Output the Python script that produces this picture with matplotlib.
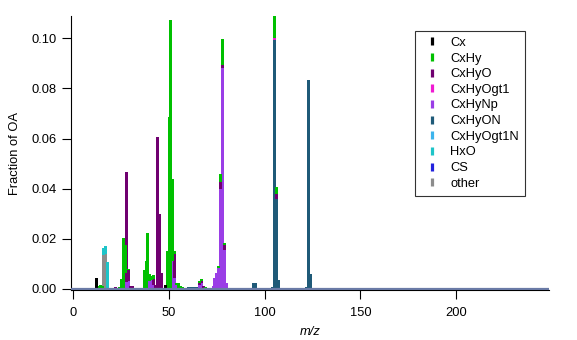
import matplotlib
matplotlib.use("Agg")
import matplotlib.pyplot as plt
from matplotlib.lines import Line2D
import pandas as pd

# stick spectrum of OA, fraction per ion family at each unit m/z
cx = {12: 0.0042, 48: 0.0014}
cxhy = {13: 0.0010, 14: 0.0014, 15: 0.0012, 24: 0.0008, 25: 0.0040, 26: 0.0205,
        27: 0.0110, 29: 0.0005, 37: 0.0075, 38: 0.0112, 39: 0.0190, 40: 0.0025,
        41: 0.0015, 42: 0.0015, 49: 0.0150, 50: 0.0687, 51: 0.1075, 52: 0.0330,
        53: 0.0012, 54: 0.0008, 55: 0.0022, 56: 0.0012, 57: 0.0006, 66: 0.0005,
        67: 0.0006, 69: 0.0008, 76: 0.0005, 77: 0.0035, 78: 0.0102, 79: 0.0008,
        105: 0.0092, 106: 0.0025}
cxhyo = {22: 0.0006, 28: 0.0440, 29: 0.0045, 30: 0.0010, 31: 0.0012, 42: 0.0025,
         43: 0.0015, 44: 0.0605, 45: 0.0300, 46: 0.0065, 53: 0.0095, 66: 0.0010,
         67: 0.0008, 68: 0.0012, 77: 0.0025, 78: 0.0015, 79: 0.0020, 85: 0.0005,
         106: 0.0022}
cxhyogt1 = {105: 0.0006}
cxhynp = {27: 0.0065, 28: 0.0027, 29: 0.0030, 39: 0.0035, 40: 0.0033, 41: 0.0035,
          42: 0.0015, 52: 0.0110, 53: 0.0045, 54: 0.0015, 66: 0.0015, 67: 0.0025,
          73: 0.0010, 74: 0.0045, 75: 0.0065, 76: 0.0085, 77: 0.0400, 78: 0.0880,
          79: 0.0155, 80: 0.0025}
cxhyon = {60: 0.0008, 61: 0.0008, 62: 0.0008, 63: 0.0008, 64: 0.0008, 65: 0.0008,
          94: 0.0025, 95: 0.0022, 104: 0.0009, 105: 0.0995, 106: 0.0358,
          107: 0.0037, 122: 0.0008, 123: 0.0833, 124: 0.0058}
cxhyogt1n = {}
hxo = {16: 0.0030, 17: 0.0030, 18: 0.0106}
cs = {}
other = {16: 0.0135, 17: 0.0140}

families = ["Cx", "CxHy", "CxHyO", "CxHyOgt1", "CxHyNp", "CxHyON",
            "CxHyOgt1N", "HxO", "CS", "other"]
colors = ["#000000", "#00c000", "#700070", "#f01ad2", "#9a3ee6", "#1f5a78",
          "#3cb4ec", "#1ec4c8", "#2222dd", "#8c8c8c"]

df = pd.DataFrame({"Cx": cx, "CxHy": cxhy, "CxHyO": cxhyo,
                   "CxHyOgt1": cxhyogt1, "CxHyNp": cxhynp, "CxHyON": cxhyon,
                   "CxHyOgt1N": cxhyogt1n, "HxO": hxo, "CS": cs,
                   "other": other}, columns=families).fillna(0).sort_index()

plt.rcParams['font.family'] = ['Liberation Sans', 'DejaVu Sans']
plt.rcParams['font.size'] = 9.3

fig = plt.figure(figsize=(5.77, 3.40), dpi=100)
ax = fig.add_axes([0.1225, 0.1456, 0.829, 0.8073])

# stack from the bottom in reverse legend order
bottom = pd.Series(0.0, index=df.index)
for name, col in reversed(list(zip(families, colors))):
    ax.bar(df.index, df[name], bottom=bottom, width=1.55, color=col,
           linewidth=0, zorder=2)
    bottom = bottom + df[name]

# zero line under the spectrum
ax.axhline(0, color="#6a7aa6", lw=1.6, zorder=3)

ax.set_xlim(-1.4, 248.6)
ax.set_ylim(-0.0006, 0.1089)
ax.set_xticks([0, 50, 100, 150, 200])
ax.set_yticks([0.0, 0.02, 0.04, 0.06, 0.08, 0.10])
ax.set_yticklabels([f"{v:.2f}" for v in ax.get_yticks()])

for s in ["top", "right"]:
    ax.spines[s].set_visible(False)
for s in ["left", "bottom"]:
    ax.spines[s].set_linewidth(0.8)
ax.tick_params(direction="out", length=6.5, width=0.8, colors="black")
ax.tick_params(axis="y", pad=3.4)
ax.tick_params(axis="x", pad=5.5)

ax.set_xlabel("m/z", style="italic", labelpad=5)
ax.set_ylabel("Fraction of OA", labelpad=8)

handles = [Line2D([], [], ls="none", marker="|", markersize=6,
                  markeredgewidth=2.3, color=c) for c in colors]
leg = ax.legend(handles, families, loc="upper left",
                bbox_to_anchor=(415 / 577, 1 - 31 / 340),
                bbox_transform=fig.transFigure, frameon=True, fancybox=False,
                borderpad=0.45, handlelength=1.74, handletextpad=0.53,
                labelspacing=0.28, borderaxespad=0)
leg.get_frame().set_edgecolor("black")
leg.get_frame().set_linewidth(0.8)

fig.savefig("out.png", dpi=100)
